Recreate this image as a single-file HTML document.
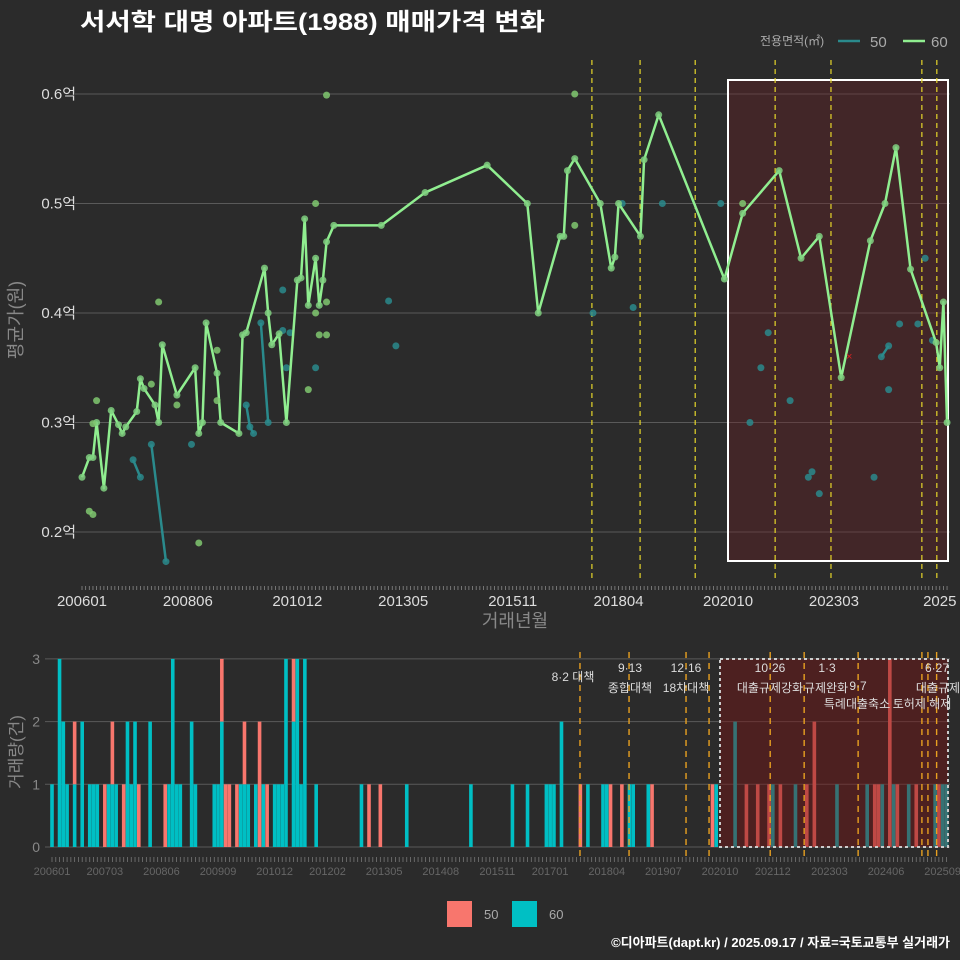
<!DOCTYPE html>
<html><head><meta charset="utf-8"><style>
html,body{margin:0;padding:0;background:#2b2b2b;}
svg{display:block;font-family:"Liberation Sans","Noto Sans CJK KR",sans-serif;}
</style></head><body>
<svg id="c" width="960" height="960" viewBox="0 0 960 960" xmlns="http://www.w3.org/2000/svg">
<rect width="960" height="960" fill="#2b2b2b"/>
<text x="80" y="30" font-size="24" font-weight="bold" fill="#ffffff" textLength="465" lengthAdjust="spacingAndGlyphs">서서학 대명 아파트(1988) 매매가격 변화</text>
<g>
<text x="760" y="45" font-size="12" fill="#aaaaaa">전용면적(㎡)</text>
<line x1="838" y1="41" x2="860" y2="41" stroke="#2a8a8c" stroke-width="2.5"/>
<text x="870" y="47" font-size="15" fill="#aaaaaa">50</text>
<line x1="903" y1="41" x2="925" y2="41" stroke="#90ee90" stroke-width="2.5"/>
<text x="931" y="47" font-size="15" fill="#aaaaaa">60</text>
</g>
<g id="topPlot"></g>
<text transform="translate(22,320) rotate(-90)" text-anchor="middle" font-size="18" fill="#888888">평균가(원)</text>
<text x="515" y="627" text-anchor="middle" font-size="18" fill="#888888">거래년월</text>
<g id="botPlot"></g>
<text transform="translate(22,752) rotate(-90)" text-anchor="middle" font-size="17" fill="#888888">거래량(건)</text>
<g>
<rect x="447" y="901" width="25" height="26" fill="#f8766d"/>
<text x="484" y="919" font-size="13" fill="#aaaaaa">50</text>
<rect x="512" y="901" width="25" height="26" fill="#00bfc4"/>
<text x="549" y="919" font-size="13" fill="#aaaaaa">60</text>
</g>
<text x="950" y="947" text-anchor="end" font-size="13" font-weight="bold" fill="#ffffff">©디아파트(dapt.kr) / 2025.09.17 / 자료=국토교통부 실거래가</text>
</svg>
<script>
// months since 2006-01
const greenMonths=[0,2,3,4,6,8,10,11,12,15,16,17,20,21,22,26,31,32,33,34,37,38,43,44,45,50,51,52,54,56,59,60,61,62,64,65,66,67,69,82,94,111,122,125,131,132,133,135,142,145,146,147,153,154,158,176,181,191,197,202,208,216,220,223,227,234,235,236,237];
const greenValues=[0.25,0.268,0.268,0.30,0.24,0.311,0.298,0.29,0.296,0.31,0.34,0.331,0.316,0.30,0.371,0.325,0.35,0.29,0.30,0.391,0.345,0.30,0.29,0.38,0.382,0.441,0.40,0.371,0.381,0.30,0.43,0.432,0.486,0.407,0.45,0.407,0.43,0.465,0.48,0.48,0.51,0.535,0.50,0.40,0.47,0.47,0.53,0.541,0.50,0.441,0.451,0.50,0.47,0.54,0.581,0.431,0.491,0.53,0.45,0.47,0.341,0.466,0.50,0.551,0.44,0.373,0.35,0.41,0.30];
const greenExtraMonths=[2,3,3,4,21,32,19,26,37,37,64,64,65,67,67,62,67,135,135,181];
const greenExtraValues=[0.219,0.216,0.299,0.32,0.41,0.19,0.335,0.316,0.366,0.32,0.50,0.40,0.38,0.38,0.41,0.33,0.599,0.60,0.48,0.50];
const blueMonths=[14,16,19,23,30,45,46,47,49,51,55,55,57,56,64,84,86,140,151,148,159,175,183,186,188,194,199,200,202,217,219,221,221,224,229,231,233];
const blueValues=[0.266,0.25,0.28,0.173,0.28,0.316,0.296,0.29,0.391,0.30,0.421,0.384,0.382,0.35,0.35,0.411,0.37,0.40,0.405,0.50,0.50,0.50,0.30,0.35,0.382,0.32,0.25,0.255,0.235,0.25,0.36,0.37,0.33,0.39,0.39,0.45,0.375];
const blueGroup=[1,1,2,2,0,3,3,3,4,4,0,0,0,0,0,0,0,0,0,0,0,0,0,0,0,0,0,0,0,0,5,5,0,0,0,0,0];
const topPolicyMonths=[139.7,152.9,168,189.9,205.2,230.1,234.2];
const yTicks=[0.2,0.3,0.4,0.5,0.6];
const yTickLabels=["0.2억","0.3억","0.4억","0.5억","0.6억"];
const xTickMonths=[0,29,59,88,118,147,177,206,235];
const xTickLabels=["200601","200806","201012","201305","201511","201804","202010","202303","2025"];
// volume
const barMonths=[0,2,3,4,6,8,10,11,12,14,15,16,17,19,20,21,22,23,26,30,31,32,33,34,37,38,43,44,45,46,47,49,50,51,52,54,55,56,57,59,60,61,62,64,65,66,67,70,82,84,87,94,111,122,126,131,132,133,135,140,142,146,147,148,151,153,154,158,159,175,176,181,184,187,190,191,193,197,200,202,208,216,218,219,220,222,223,224,227,229,234,235,236,237];
const count60=[1,3,2,1,1,2,1,1,1,0,1,1,1,0,2,1,2,0,2,0,1,3,1,1,2,1,1,1,2,0,0,0,1,1,1,1,0,1,0,1,1,1,3,2,3,1,3,1,1,0,0,1,1,1,1,1,1,1,2,0,1,1,1,0,0,1,1,1,0,0,1,2,0,0,0,1,0,1,0,0,1,1,0,0,1,0,1,0,1,0,1,0,1,1];
const count50=[0,0,0,0,1,0,0,0,0,1,0,1,0,1,0,0,0,1,0,1,0,0,0,0,0,0,0,0,1,1,1,1,0,1,0,0,2,0,1,0,0,0,0,1,0,0,0,0,0,1,1,0,0,0,0,0,0,0,0,1,0,0,0,1,1,0,0,0,1,1,0,0,1,1,1,0,1,0,1,2,0,0,1,1,0,3,0,1,0,1,0,1,0,0];
const volTicks=[0,1,2,3];
const botPolicyMonths=[139.9,152.9,168,174.1,190.3,199.3,213.6,230.5,232.1,234.4];
const botXTickMonths=[0,14,29,44,59,73,88,103,118,132,147,162,177,191,206,221,236];
const botXTickLabels=["200601","200703","200806","200909","201012","201202","201305","201408","201511","201701","201804","201907","202010","202112","202303","202406","202509"];
const notes=[["8·2 대책",573,681],["9·13",630,672],["종합대책",630,692],["12·16",686,672],["18차대책",686,692],["10·26",770,672],["대출규제강화",770,692],["1·3",827,672],["규제완화",826,692],["9·7",858,690],["특례대출축소",857,708],["토허제 해제",922,708],["6·27",937,672],["대출규제",938,692]];

const NS="http://www.w3.org/2000/svg";
function mk(parent,tag,attrs){const e=document.createElementNS(NS,tag);for(const k in attrs)e.setAttribute(k,attrs[k]);parent.appendChild(e);return e;}
const xT=m=>82+m*3.65, yT=v=>532-(v-0.2)*1095;
const xB=m=>52+m*3.774, yB=n=>847-n*62.7;
const topG=document.getElementById('topPlot'), botG=document.getElementById('botPlot');

yTicks.forEach((t,i)=>{
 let l=mk(topG,'line',{x1:75,x2:950,y1:yT(t),y2:yT(t),stroke:'#5a5a5a','stroke-width':1});
 
 
 let tx=mk(topG,'text',{x:76,y:yT(t)+5,'text-anchor':'end','font-size':15,fill:'#dddddd'});
 tx.textContent=yTickLabels[i];
 
 
});
let bx=mk(topG,'rect',{x:728,y:80,width:220,height:481,fill:'rgb(110,30,35)','fill-opacity':0.35,stroke:'#ffffff','stroke-width':2});


topPolicyMonths.forEach(m=>{
 let l=mk(topG,'line',{x1:xT(m),x2:xT(m),y1:60,y2:578,stroke:'#e6d62a','stroke-width':1.2,'stroke-dasharray':'5,4'});
 
 
});
const groups={};
blueMonths.forEach((m,i)=>{const g=blueGroup[i]||0;if(g>0){(groups[g]=groups[g]||[]).push([xT(m),yT(blueValues[i])]);}});
for(const g in groups){
 let p=mk(topG,'polyline',{points:groups[g].map(p=>p.join(',')).join(' '),fill:'none',stroke:'#2a8a8c','stroke-width':2.5});
 
 
}
blueMonths.forEach((m,i)=>{
 let c=mk(topG,'circle',{cx:xT(m),cy:yT(blueValues[i]),r:3.5,fill:'#2a8a8c','fill-opacity':0.85});
 
 
});
let gl=mk(topG,'polyline',{points:greenMonths.map((m,i)=>xT(m)+','+yT(greenValues[i])).join(' '),fill:'none',stroke:'#90ee90','stroke-width':2.5,'stroke-linejoin':'round'});


greenMonths.forEach((m,i)=>{
 let c=mk(topG,'circle',{cx:xT(m),cy:yT(greenValues[i]),r:3.5,fill:'#80d080','fill-opacity':0.85});
 
 
});
greenExtraMonths.forEach((m,i)=>{
 let c=mk(topG,'circle',{cx:xT(m),cy:yT(greenExtraValues[i]),r:3.5,fill:'#80c870','fill-opacity':0.85});
 
 
});
let rx=mk(topG,'text',{x:846,y:360,'font-size':11,fill:'#dd2222'});rx.textContent='×';


for(let m=0;m<=237;m++){let t=mk(topG,'line',{x1:xT(m),x2:xT(m),y1:586,y2:590,stroke:'#888','stroke-width':0.8});
 
 }
xTickMonths.forEach((m,i)=>{
 let tx=mk(topG,'text',{x:xT(m),y:606,'text-anchor':'middle','font-size':15,fill:'#dddddd'});
 tx.textContent=xTickLabels[i];
 
 
});

volTicks.forEach(t=>{
 let l=mk(botG,'line',{x1:45,x2:950,y1:yB(t),y2:yB(t),stroke:'#5a5a5a','stroke-width':1});
 
 
 let tx=mk(botG,'text',{x:40,y:yB(t)+5,'text-anchor':'end','font-size':14,fill:'#888888'});
 tx.textContent=String(t);
 
 
});
barMonths.forEach((m,i)=>{
 const x=xB(m)-1.8;
 const a=count60[i]||0, b=count50[i]||0;
 if(a>0){let r=mk(botG,'rect',{x:x,y:yB(a),width:3.6,height:yB(0)-yB(a),fill:'#00bfc4'});
  
  }
 if(b>0){let r=mk(botG,'rect',{x:x,y:yB(a+b),width:3.6,height:yB(a)-yB(a+b),fill:'#f8766d'});
  
  }
});
let bb=mk(botG,'rect',{x:720,y:659,width:228,height:188,fill:'rgb(120,20,20)','fill-opacity':0.45,stroke:'#cccccc','stroke-width':2,'stroke-dasharray':'3,3'});


botPolicyMonths.forEach(m=>{
 let l=mk(botG,'line',{x1:xB(m),x2:xB(m),y1:652,y2:856,stroke:'#e8a020','stroke-width':1.4,'stroke-dasharray':'6,5'});
 
 
});
notes.forEach(n=>{
 let tx=mk(botG,'text',{x:n[1],y:n[2],'text-anchor':'middle','font-size':12,fill:'#dddddd'});
 tx.textContent=n[0];
 
 
});
for(let m=0;m<=237;m++){let t=mk(botG,'line',{x1:xB(m),x2:xB(m),y1:857,y2:862,stroke:'#777','stroke-width':0.8});
 
 }
botXTickMonths.forEach((m,i)=>{
 let tx=mk(botG,'text',{x:xB(m),y:875,'text-anchor':'middle','font-size':11,fill:'#666666'});
 tx.textContent=botXTickLabels[i];
 
 
});
</script>
</body></html>
